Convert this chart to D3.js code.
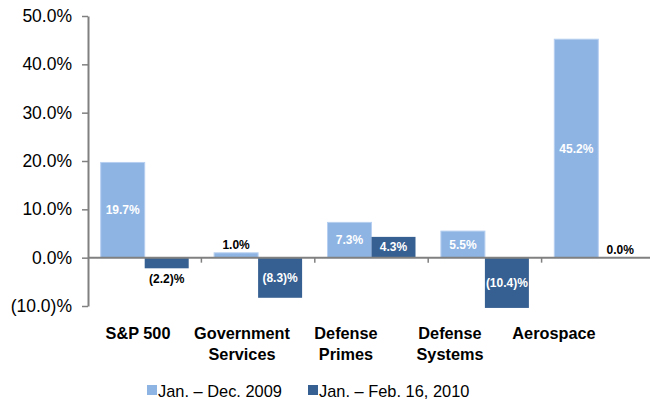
<!DOCTYPE html>
<html><head><meta charset="utf-8">
<script src="https://cdn.jsdelivr.net/npm/d3@7"></script>
<style>body{margin:0;background:#fff}svg{display:block}</style>
</head><body>
<svg id="c" width="650" height="403"></svg>
<script>
const categories = [["S&P 500"], ["Government", "Services"], ["Defense", "Primes"], ["Defense", "Systems"], ["Aerospace"]];
const seriesNames = ["Jan. \u2013 Dec. 2009", "Jan. \u2013 Feb. 16, 2010"];
const series2009 = [19.7, 1.0, 7.3, 5.5, 45.2];
const series2010 = [-2.2, -8.3, 4.3, -10.4, 0.0];
const yTicks = [-10, 0, 10, 20, 30, 40, 50];
const colors = ["#8eb4e3", "#376092"];

const svg = d3.select("#c");
const font = "'Liberation Sans', Arial, sans-serif";
const catKeys = categories.map((c, i) => i);
const x = d3.scaleBand().domain(catKeys).range([88, 655]).paddingInner(0.224).paddingOuter(0.112);
const xs = d3.scaleBand().domain([0, 1]).range([0, x.bandwidth()]);
// category labels sit on a slightly narrower band than the bars (as in the reference)
const xl = d3.scaleBand().domain(catKeys).range([86, 606]);
const y = d3.scaleLinear().domain([-10, 50]).range([306, 16]);

const fmt = v => v < 0 ? "(" + Math.abs(v).toFixed(1) + ")%" : v.toFixed(1) + "%";

// y axis
const yAxis = d3.axisLeft(y).tickValues(yTicks).tickFormat(fmt).tickSize(6).tickSizeOuter(0).tickPadding(10);
const gy = svg.append("g").attr("transform", "translate(88,0)").call(yAxis);
gy.select(".domain").attr("stroke", "#808080").attr("stroke-width", 2);
gy.selectAll(".tick line").attr("stroke", "#808080").attr("stroke-width", 1.5);
gy.selectAll(".tick text").attr("font-family", font).attr("font-size", 17.5).attr("fill", "#000");

// bars
const data = [];
catKeys.forEach(i => {
  data.push({ c: i, s: 0, v: series2009[i] });
  data.push({ c: i, s: 1, v: series2010[i] });
});
svg.append("g").selectAll("rect").data(data).join("rect")
  .attr("x", d => x(d.c) + xs(d.s))
  .attr("width", xs.bandwidth())
  .attr("y", d => y(Math.max(0, d.v)))
  .attr("height", d => Math.abs(y(d.v) - y(0)))
  .attr("fill", d => colors[d.s])
  .attr("stroke", d => d.s === 0 ? "#b7cff0" : "none")
  .attr("stroke-width", 1);

// x axis line at zero
svg.append("line").attr("x1", 88).attr("x2", 655).attr("y1", y(0)).attr("y2", y(0))
  .attr("stroke", "#808080").attr("stroke-width", 2);
// category boundary ticks
svg.append("g").selectAll("line").data(catKeys.slice(1)).join("line")
  .attr("x1", d => x(d) - x.step() * x.paddingInner() / 2)
  .attr("x2", d => x(d) - x.step() * x.paddingInner() / 2)
  .attr("y1", y(0)).attr("y2", y(0) + 5)
  .attr("stroke", "#808080").attr("stroke-width", 1.5);

// value labels
svg.append("g").selectAll("text").data(data).join("text")
  .attr("x", d => x(d.c) + xs(d.s) + xs.bandwidth() / 2)
  .attr("y", d => {
    if (Math.abs(d.v) < 3) return d.v < 0 ? y(d.v) + 10 : y(d.v) - 8;
    return (y(d.v) + y(0)) / 2;
  })
  .attr("dy", "0.35em")
  .attr("text-anchor", "middle")
  .attr("font-family", font).attr("font-size", 12).attr("font-weight", "bold")
  .attr("fill", d => Math.abs(d.v) < 3 ? "#000" : "#fff")
  .text(d => fmt(d.v));

// category labels
const cl = svg.append("g").selectAll("text").data(catKeys).join("text")
  .attr("x", d => xl(d) + xl.bandwidth() / 2)
  .attr("y", 339)
  .attr("text-anchor", "middle")
  .attr("font-family", font).attr("font-size", 16.3).attr("font-weight", "bold").attr("fill", "#000");
cl.each(function (d) {
  d3.select(this).selectAll("tspan").data(categories[d]).join("tspan")
    .attr("x", xl(d) + xl.bandwidth() / 2)
    .attr("dy", (t, j) => j === 0 ? 0 : 21)
    .text(t => t);
});

// legend
const legX = [147, 308];
const lg = svg.append("g").selectAll("g").data(seriesNames).join("g")
  .attr("transform", (d, i) => `translate(${legX[i]},391)`);
lg.append("rect").attr("x", 0).attr("y", -6).attr("width", 10).attr("height", 10).attr("fill", (d, i) => colors[i]);
lg.append("text").attr("x", 11).attr("y", 0).attr("dy", "0.35em")
  .attr("font-family", font).attr("font-size", 16.4).attr("fill", "#000").text(d => d);
</script>
</body></html>
